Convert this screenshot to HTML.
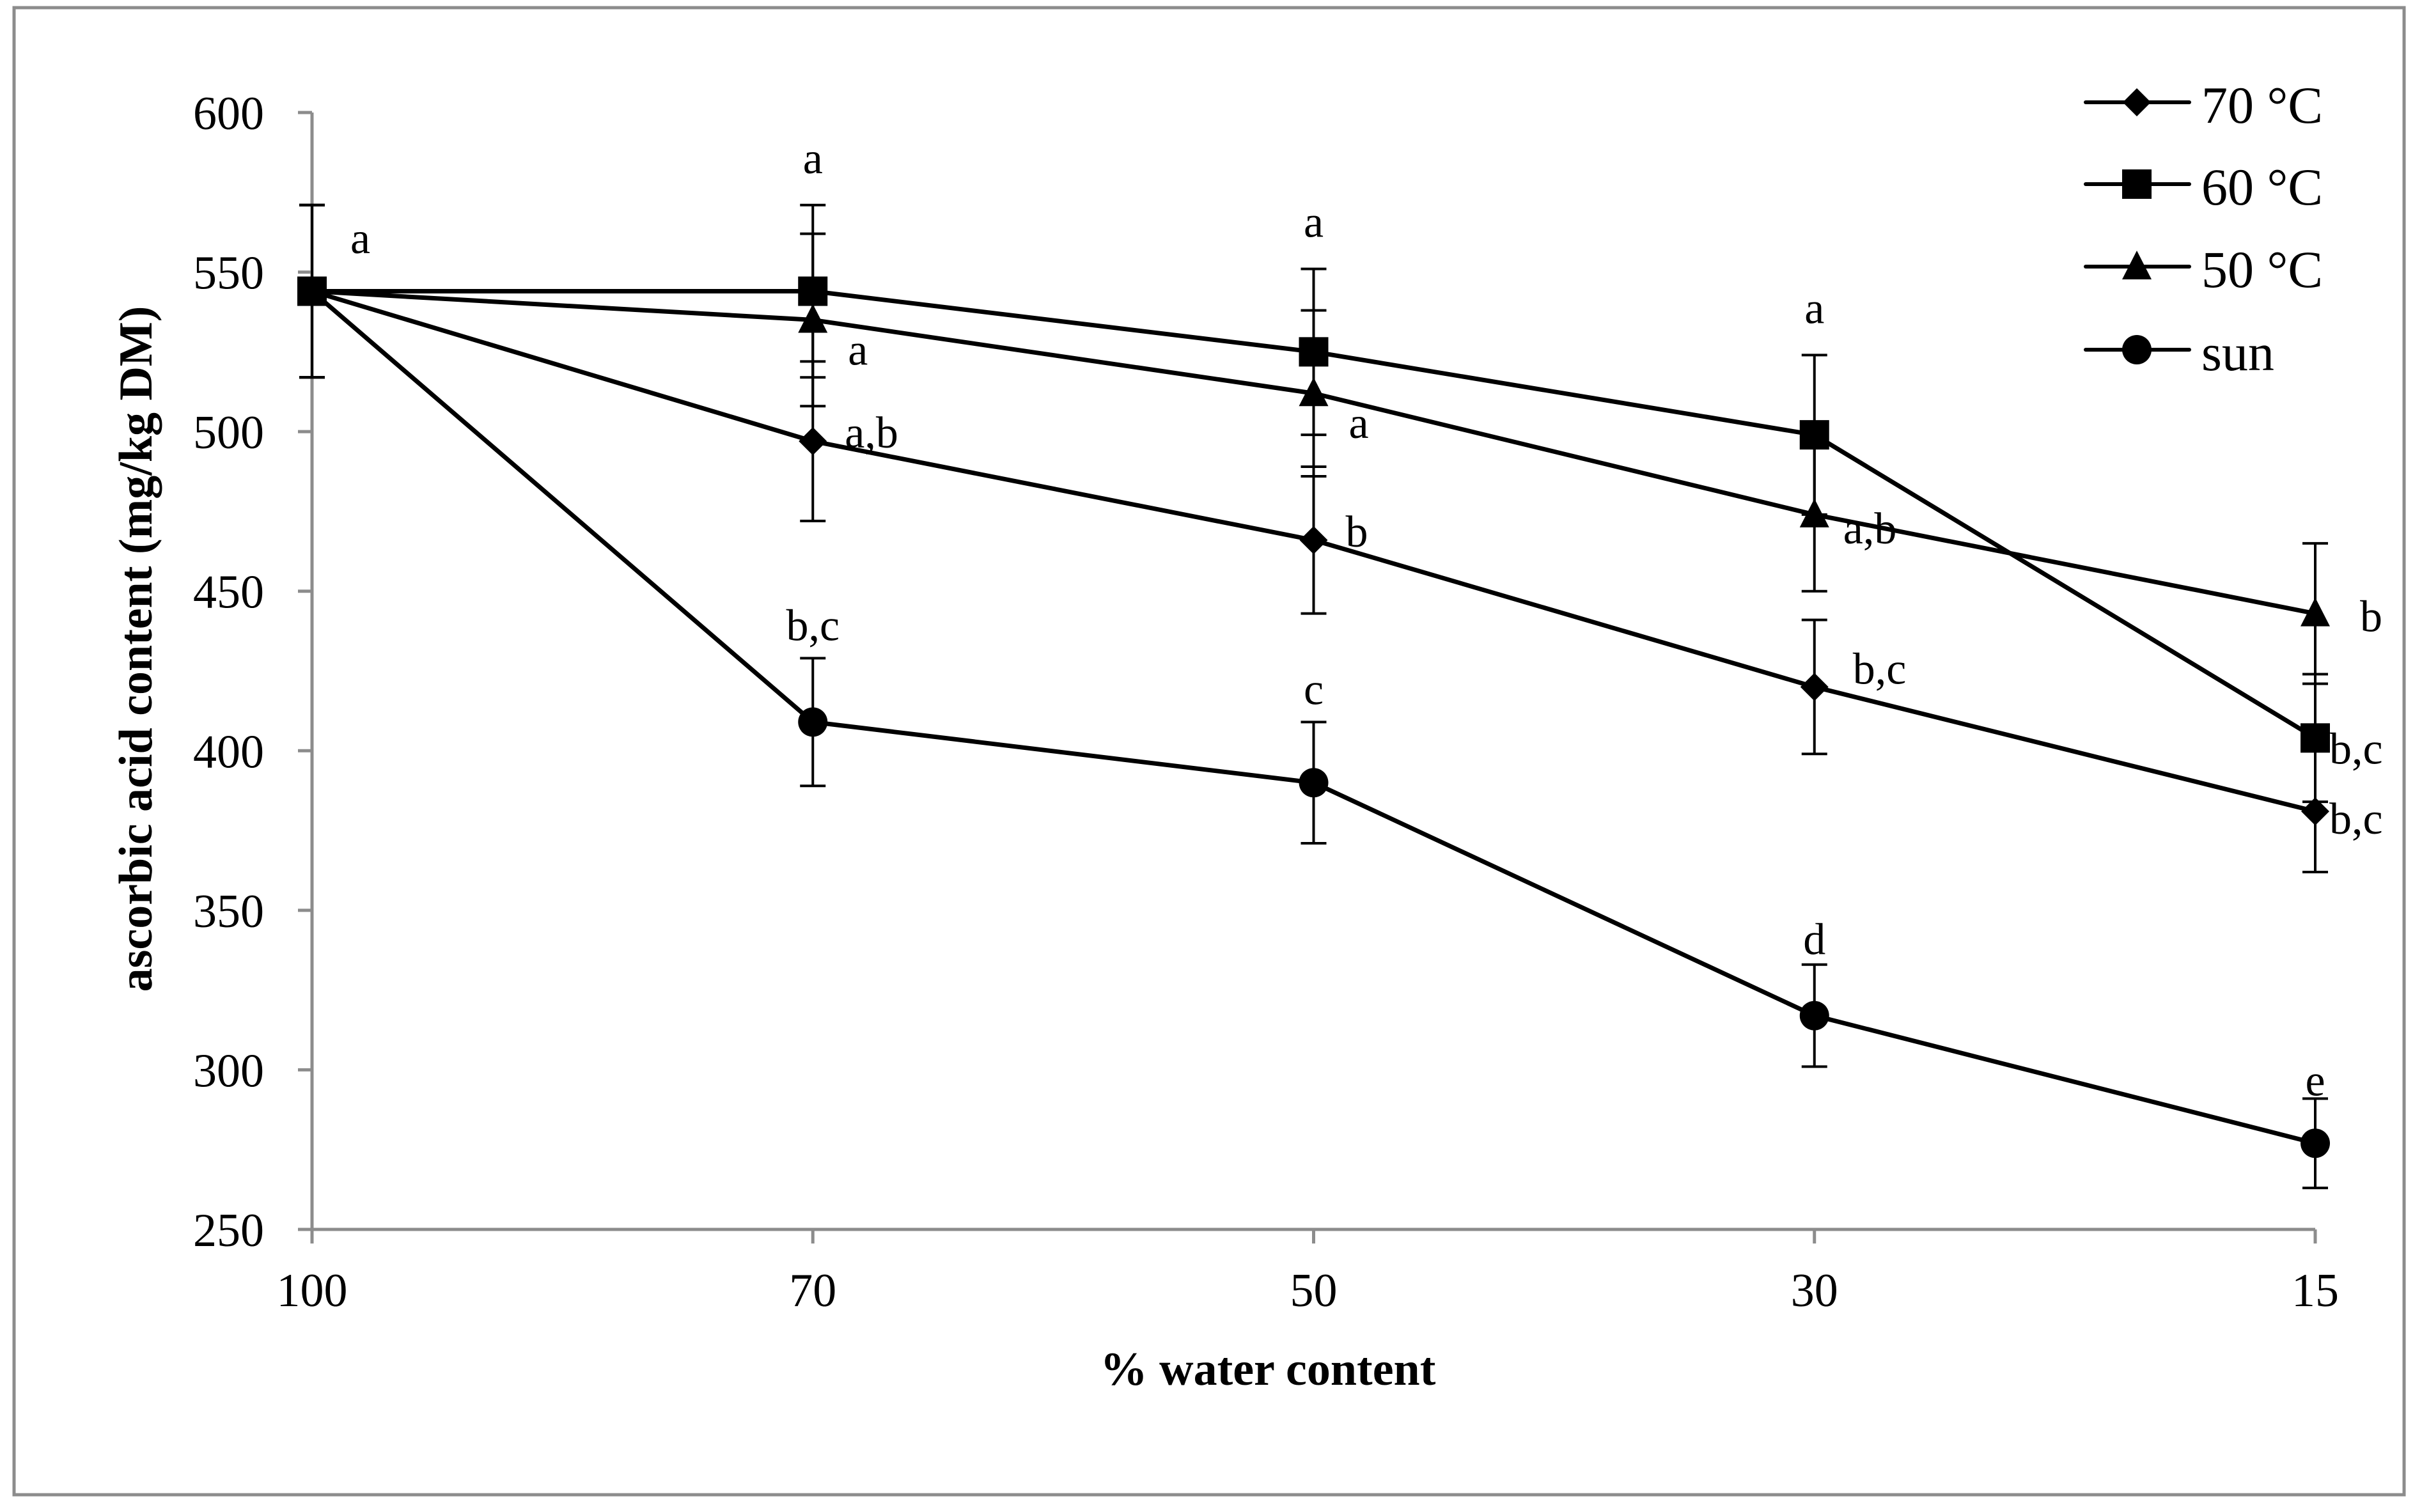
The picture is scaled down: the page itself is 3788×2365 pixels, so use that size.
<!DOCTYPE html>
<html><head><meta charset="utf-8">
<style>
html,body{margin:0;padding:0;background:#fff;}
svg{display:block;font-family:"Liberation Serif",serif;}
</style></head>
<body>
<svg id="chart" width="3788" height="2365" viewBox="0 0 3788 2365" xmlns="http://www.w3.org/2000/svg">
<rect x="22" y="12" width="3738" height="2326" fill="#fff" stroke="#8c8c8c" stroke-width="5"/>
<g id="axes"></g>
<g id="series"></g>
<g id="legend"></g>
<text x="1983" y="2166" font-size="74" font-weight="bold" text-anchor="middle">% water content</text>
<text transform="translate(237,1015) rotate(-90)" font-size="74" font-weight="bold" text-anchor="middle">ascorbic acid content (mg/kg DM)</text>
</svg>
<script>
const categories = ["100","70","50","30","15"];
const yTicks = [250,300,350,400,450,500,550,600];
const seriesNames = ["70 °C","60 °C","50 °C","sun"];
const markers = ["diamond","square","triangle","circle"];
const vals70 = [544,497,466,420,381];
const vals60 = [544,544,525,499,404];
const vals50 = [544,535,512,474,443];
const valsSun = [544,409,390,317,277];
const err70 = [27,25,23,21,19];
const err60 = [27,27,26,25,20];
const err50 = [27,27,26,24,22];
const errSun = [27,20,19,16,14];
const labels70 = ["","a,b","b","b,c","b,c"];
const labels60 = ["a","a","a","a","b,c"];
const labels50 = ["","a","a","a,b","b"];
const labelsSun = ["","b,c","c","d","e"];

const NS="http://www.w3.org/2000/svg";
const X0=488, X1=3621, Y0=1923, Y1=176, VMIN=250, VMAX=600;
function xs(i){return X0+(X1-X0)*i/(categories.length-1);}
function ys(v){return Y0-(v-VMIN)/(VMAX-VMIN)*(Y0-Y1);}
function mk(tag,attrs,parent){const e=document.createElementNS(NS,tag);for(const k in attrs)e.setAttribute(k,attrs[k]);parent.appendChild(e);return e;}
const axes=document.getElementById('axes');
const ser=document.getElementById('series');
const leg=document.getElementById('legend');

let ax=mk('line',{x1:X0,y1:Y1,x2:X0,y2:Y0,stroke:'#8c8c8c','stroke-width':5},axes);


let bx=mk('line',{x1:X0,y1:Y0,x2:X1,y2:Y0,stroke:'#8c8c8c','stroke-width':5},axes);


yTicks.forEach(v=>{
  const t=mk('line',{x1:X0-22,y1:ys(v),x2:X0,y2:ys(v),stroke:'#8c8c8c','stroke-width':5},axes);
  
  
  const l=mk('text',{x:X0-75,y:ys(v)+26,'font-size':74,'text-anchor':'end'},axes);
  l.textContent=v;
  
  
});
categories.forEach((c,i)=>{
  const t=mk('line',{x1:xs(i),y1:Y0,x2:xs(i),y2:Y0+22,stroke:'#8c8c8c','stroke-width':5},axes);
  
  
  const l=mk('text',{x:xs(i),y:Y0+120,'font-size':74,'text-anchor':'middle'},axes);
  l.textContent=c;
  
  
});

function marker(type,x,y,parent,s){
  let e;
  if(type==='diamond') e=mk('polygon',{points:`${x},${y-22*s} ${x+22*s},${y} ${x},${y+22*s} ${x-22*s},${y}`,fill:'#000'},parent);
  else if(type==='square') e=mk('rect',{x:x-23*s,y:y-23*s,width:46*s,height:46*s,fill:'#000'},parent);
  else if(type==='triangle') e=mk('polygon',{points:`${x},${y-25*s} ${x+23*s},${y+20*s} ${x-23*s},${y+20*s}`,fill:'#000'},parent);
  else e=mk('circle',{cx:x,cy:y,r:23*s,fill:'#000'},parent);
  return e;
}
const allVals=[vals70,vals60,vals50,valsSun];
const allErr=[err70,err60,err50,errSun];
const allLab=[labels70,labels60,labels50,labelsSun];
const labOff=[[50,10],[0,-80],[55,70],[0,-85]];
const slug=["70c","60c","50c","sun"];
allVals.forEach((vals,si)=>{
  const g=mk('g',{},ser);
  
  
  const pts=vals.map((v,i)=>xs(i)+','+ys(v)).join(' ');
  const pl=mk('polyline',{points:pts,fill:'none',stroke:'#000','stroke-width':7,'stroke-linejoin':'round'},g);
  
  
  vals.forEach((v,i)=>{
    const e=allErr[si][i], x=xs(i);
    const eb=mk('path',{d:`M${x},${ys(v+e)}V${ys(v-e)}M${x-20},${ys(v+e)}H${x+20}M${x-20},${ys(v-e)}H${x+20}`,stroke:'#000','stroke-width':4,fill:'none'},g);
    
    
    const m=marker(markers[si],x,ys(v),g,1);
    
    
    const lab=allLab[si][i];
    if(lab){
      let tx=x+labOff[si][0], ty=ys(v)+labOff[si][1], anchor='start';
      if(si===1){anchor='middle'; ty=ys(v+e)-50;}
      if(si===3){anchor='middle'; ty=ys(v+e)-28;}
      if(si===1&&i===0){tx=x+60;ty=ys(v+e)+75;anchor='start';}
      if(si===1&&i===4){tx=x+22;ty=ys(v)+40;anchor='start';}
      if(si===0&&i===4){tx=x+22;ty=ys(v)+35;}
      if(si===2&&i===4){tx=x+70;ty=ys(v)+28;}
      if(si===0&&i===3){tx=x+60;ty=ys(v)-5;}
      if(si===2&&i===3){tx=x+45;ty=ys(v)+45;}
      if(si===3&&i===3){ty=ys(v+e)-16;}
      if(si===3&&i===4){ty=ys(v+e)-5;}
      const t=mk('text',{x:tx,y:ty,'font-size':70,'text-anchor':anchor},g);
      t.textContent=lab;
      
      
    }
  });
});
const legY=[160,288,417,547];
seriesNames.forEach((n,i)=>{
  const g=mk('g',{},leg);
  
  
  mk('line',{x1:3262,y1:legY[i],x2:3424,y2:legY[i],stroke:'#000','stroke-width':6,'stroke-linecap':'round'},g);
  marker(markers[i],3342,legY[i],g,1);
  const t=mk('text',{x:3443,y:legY[i]+32,'font-size':82},g);
  t.textContent=n;
  
  
});
</script>
</body></html>
